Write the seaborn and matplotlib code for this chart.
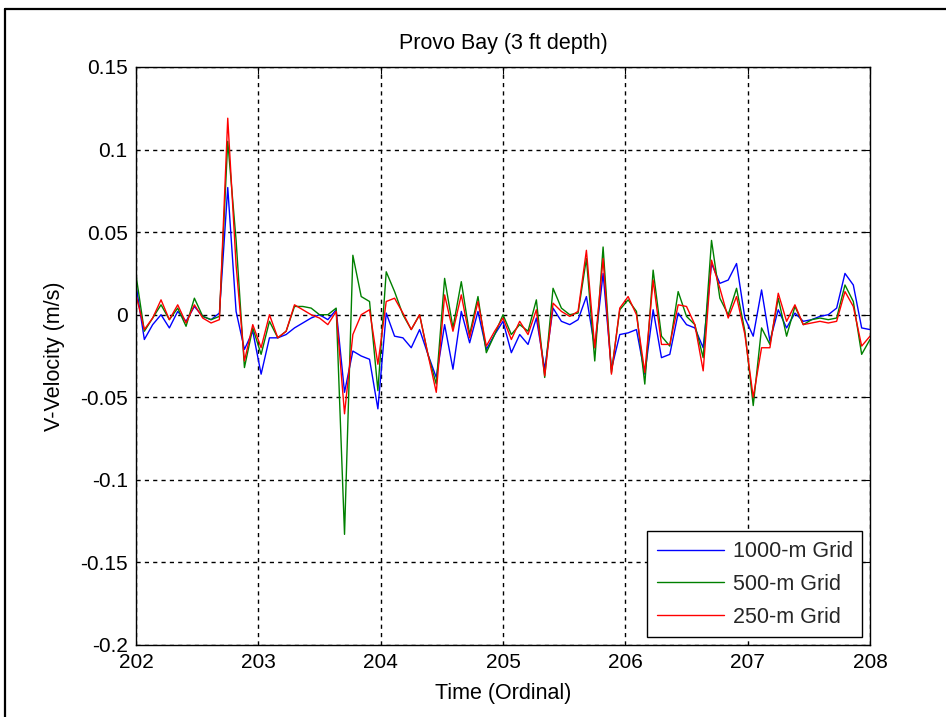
import numpy as np
import pandas as pd
import matplotlib
matplotlib.use("Agg")
import matplotlib.pyplot as plt
import seaborn as sns
from matplotlib.lines import Line2D

# Sampling window (ordinal day) and number of model output times
time_start, time_end, n_times = 202, 208, 89

# V-velocity (m/s) at the Provo Bay station for each model grid
vel_1000m = [
    0.018, -0.015, -0.006, 0.000, -0.008, 0.002, -0.004, 0.005, -0.001, -0.003,
    0.001, 0.077, 0.002, -0.021, -0.010, -0.036, -0.014, -0.014, -0.012, -0.008,
    -0.005, -0.002, 0.000, -0.003, 0.003, -0.047, -0.022, -0.025, -0.027, -0.057,
    0.001, -0.013, -0.014, -0.020, -0.009, -0.024, -0.038, -0.006, -0.033, 0.002,
    -0.017, 0.002, -0.021, -0.012, -0.004, -0.023, -0.012, -0.018, -0.002, -0.033,
    0.004, -0.004, -0.006, -0.003, 0.011, -0.020, 0.025, -0.033, -0.012, -0.011,
    -0.009, -0.036, 0.003, -0.026, -0.024, 0.001, -0.006, -0.008, -0.020, 0.031,
    0.019, 0.021, 0.031, -0.002, -0.013, 0.015, -0.016, 0.003, -0.008, 0.001,
    -0.004, -0.003, -0.001, 0.000, 0.004, 0.025, 0.018, -0.008, -0.009,
]
vel_500m = [
    0.024, -0.010, -0.002, 0.006, -0.003, 0.004, -0.007, 0.010, -0.001, -0.003,
    -0.001, 0.105, 0.045, -0.032, -0.008, -0.024, -0.004, -0.014, -0.010, 0.005,
    0.005, 0.004, 0.000, 0.000, 0.004, -0.133, 0.036, 0.011, 0.008, -0.046,
    0.026, 0.014, 0.000, -0.009, 0.000, -0.024, -0.042, 0.022, -0.008, 0.020,
    -0.012, 0.011, -0.023, -0.012, 0.000, -0.012, -0.006, -0.010, 0.009, -0.038,
    0.016, 0.004, 0.000, 0.001, 0.034, -0.028, 0.041, -0.035, 0.003, 0.009,
    0.002, -0.042, 0.027, -0.013, -0.019, 0.014, -0.001, -0.006, -0.026, 0.045,
    0.010, 0.000, 0.016, -0.010, -0.055, -0.008, -0.018, 0.010, -0.013, 0.005,
    -0.006, -0.003, -0.002, -0.003, -0.002, 0.018, 0.008, -0.024, -0.015,
]
vel_250m = [
    0.012, -0.009, -0.002, 0.009, -0.003, 0.006, -0.005, 0.006, -0.002, -0.005,
    -0.003, 0.119, 0.030, -0.028, -0.006, -0.020, 0.000, -0.014, -0.010, 0.006,
    0.003, 0.000, -0.002, -0.006, 0.002, -0.060, -0.012, 0.000, 0.003, -0.030,
    0.008, 0.010, 0.001, -0.009, 0.000, -0.024, -0.047, 0.012, -0.010, 0.012,
    -0.014, 0.008, -0.019, -0.010, -0.002, -0.015, -0.004, -0.012, 0.003, -0.037,
    0.007, 0.002, -0.001, 0.002, 0.039, -0.020, 0.034, -0.036, 0.004, 0.011,
    0.000, -0.035, 0.021, -0.018, -0.018, 0.006, 0.005, -0.006, -0.034, 0.033,
    0.016, -0.002, 0.011, -0.012, -0.050, -0.020, -0.020, 0.013, -0.004, 0.006,
    -0.006, -0.005, -0.004, -0.005, -0.004, 0.014, 0.005, -0.019, -0.013,
]
grid_names = ["1000-m Grid", "500-m Grid", "250-m Grid"]
grid_colors = ["#0000ff", "#008000", "#ff0000"]

x_ticks = [202, 203, 204, 205, 206, 207, 208]
y_ticks = [0.15, 0.1, 0.05, 0, -0.05, -0.1, -0.15, -0.2]
y_tick_labels = ["0.15", "0.1", "0.05", "0", "-0.05", "-0.1", "-0.15", "-0.2"]

sns.set_theme(style="white")
plt.rcParams["font.family"] = ["Liberation Sans", "DejaVu Sans"]
plt.rcParams["axes.unicode_minus"] = False

time = np.linspace(time_start, time_end, n_times)
frames = []
for name, vals in zip(grid_names, [vel_1000m, vel_500m, vel_250m]):
    frames.append(pd.DataFrame({"Time": time, "V": vals, "Grid": name}))
df = pd.concat(frames, ignore_index=True)

fig = plt.figure(figsize=(9.46, 7.17), dpi=100)
ax = fig.add_axes([136 / 946, 1 - 645 / 717, (870 - 136) / 946, (645 - 67) / 717])

sns.lineplot(data=df, x="Time", y="V", hue="Grid", palette=grid_colors,
             hue_order=grid_names, linewidth=1.0, estimator=None, sort=False,
             ax=ax)

ax.set_xlim(time_start, time_end)
ax.set_ylim(-0.2, 0.15)
ax.set_xticks(x_ticks)
ax.set_xticklabels([str(t) for t in x_ticks])
ax.set_yticks(y_ticks)
ax.set_yticklabels(y_tick_labels)

ax.grid(True, color="black", linestyle=(0, (3, 3)), linewidth=1.0)
ax.tick_params(direction="in", length=5, width=0.8, top=True, right=True,
               colors="black", labelsize=15)
ax.tick_params(axis="x", pad=6)
ax.tick_params(axis="y", pad=6)
for sp in ax.spines.values():
    sp.set_color("black")
    sp.set_linewidth(1.0)

ax.set_title("Provo Bay (3 ft depth)", fontsize=15.5, pad=13, color="black")
ax.set_xlabel("Time (Ordinal)", fontsize=15.5, color="black", labelpad=8)
ax.set_ylabel("V-Velocity (m/s)", fontsize=15.5, color="black", labelpad=11)

leg = ax.legend(loc="lower right", fontsize=15.5, frameon=True, fancybox=False,
                edgecolor="black", framealpha=1, handlelength=3.1,
                handletextpad=0.42, labelspacing=0.55, borderaxespad=0.35,
                borderpad=0.45, title=None)
leg.get_frame().set_linewidth(1.0)

# outer figure border on the top and left edges
fig.add_artist(Line2D([5 / 946, 5 / 946], [0, 1 - 9 / 717], color="black",
                      linewidth=1.6, transform=fig.transFigure))
fig.add_artist(Line2D([5 / 946, 1], [1 - 9 / 717, 1 - 9 / 717], color="black",
                      linewidth=1.6, transform=fig.transFigure))

fig.savefig("out.png", dpi=100)
